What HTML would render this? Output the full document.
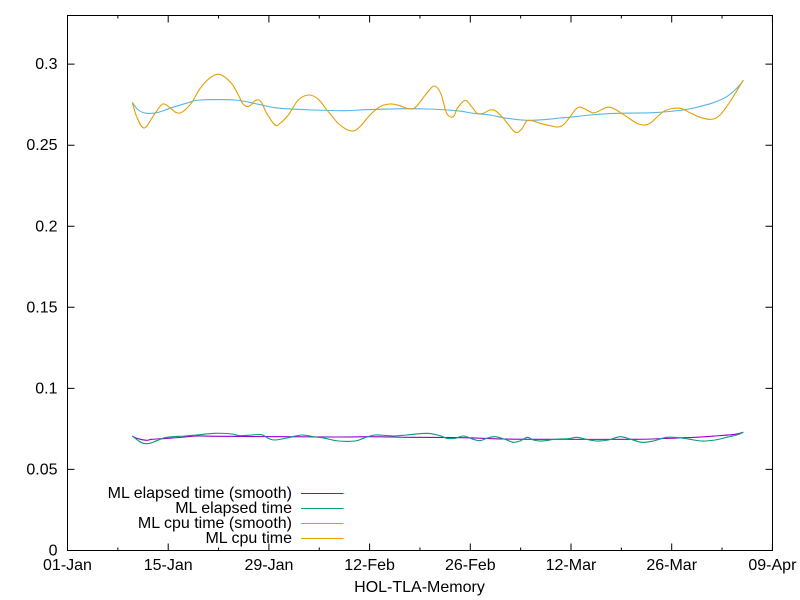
<!DOCTYPE html>
<html>
<head>
<meta charset="utf-8">
<style>
html,body{margin:0;padding:0;background:#fff;}
svg{display:block;}
text{font-family:"Liberation Sans",Arial,sans-serif;font-size:16px;fill:#000;}
</style>
</head>
<body>
<svg id="chart" width="800" height="600" viewBox="0 0 800 600" xmlns="http://www.w3.org/2000/svg">
<rect width="800" height="600" fill="#fff"/>
<g stroke="#000" stroke-width="1" fill="none">
<path d="M67.5,550.5h7M67.5,469.4h7M67.5,388.4h7M67.5,307.3h7M67.5,226.3h7M67.5,145.2h7M67.5,64.1h7"/>
<path d="M772.5,550.5h-7M772.5,469.4h-7M772.5,388.4h-7M772.5,307.3h-7M772.5,226.3h-7M772.5,145.2h-7M772.5,64.1h-7"/>
<path d="M67.5,550.5v-7M168.2,550.5v-7M268.9,550.5v-7M369.6,550.5v-7M470.3,550.5v-7M571,550.5v-7M671.7,550.5v-7M772.4,550.5v-7"/>
<path d="M67.5,15.5v7M168.2,15.5v7M268.9,15.5v7M369.6,15.5v7M470.3,15.5v7M571,15.5v7M671.7,15.5v7M772.4,15.5v7"/>
<path d="M117.85,550.5v-3M218.55,550.5v-3M319.25,550.5v-3M419.95,550.5v-3M520.65,550.5v-3M621.35,550.5v-3M722.05,550.5v-3"/>
<path d="M117.85,15.5v3M218.55,15.5v3M319.25,15.5v3M419.95,15.5v3M520.65,15.5v3M621.35,15.5v3M722.05,15.5v3"/>
<rect x="67.5" y="15.5" width="705" height="535"/>
</g>
<g text-anchor="end">
<text x="57.5" y="555.5">0</text>
<text x="57.5" y="474.4">0.05</text>
<text x="57.5" y="393.4">0.1</text>
<text x="57.5" y="312.3">0.15</text>
<text x="57.5" y="231.3">0.2</text>
<text x="57.5" y="150.2">0.25</text>
<text x="57.5" y="69.1">0.3</text>
</g>
<g text-anchor="middle">
<text x="67.5" y="570">01-Jan</text>
<text x="168.2" y="570">15-Jan</text>
<text x="268.9" y="570">29-Jan</text>
<text x="369.6" y="570">12-Feb</text>
<text x="470.3" y="570">26-Feb</text>
<text x="571" y="570">12-Mar</text>
<text x="671.7" y="570">26-Mar</text>
<text x="772.4" y="570">09-Apr</text>
<text x="419.5" y="592">HOL-TLA-Memory</text>
</g>
<g id="series" fill="none" stroke-width="1.1" stroke-linejoin="round">
<polyline stroke="#9400d3" points="132.3,436 136.7,438.3 146.7,440.3 151.7,439.3 168.3,438.3 185,437 198.3,436 225,436.3 335,437 370,436.7 410,437.3 463.3,437.7 503.3,439 540,439.3 635,439.3 668.3,438.3 695,437.3 715,436 735,434.3 743.3,432.3"/>
<polyline stroke="#009e73" points="132.3,436 138.3,440.7 143.3,443.3 150,443.3 156.7,440.7 166.7,437.3 185,436 196.7,435 215,433.3 231.7,434 240,435.7 251.7,435 261.7,434.7 268.3,438.3 275,440 288.3,437.7 301.7,435 313.3,436.7 325,438.3 338.3,441 355,441 363.3,438.3 375,435 393.3,436 406.7,435 426.7,433.3 440,435.7 446.7,438.3 455,438.3 463.3,436 473.3,439.3 480,440.7 486.7,438.3 495,436.7 505,439.3 513.3,442.3 520,441 527.3,437.3 533.3,440 541.7,441 555,439.3 568.3,438.7 576.7,437.3 585,439 596.7,441 608.3,440 620,436.7 630,439 641.7,442.3 653.3,441 666.7,437.3 678.3,437.7 690,439.3 701.7,441 715,440 726.7,437.3 736.7,435 743.3,432.3"/>
<polyline stroke="#56b4e9" points="132.3,102.3 138.3,110 146.7,113.3 158.3,112.3 171.7,107.7 188.3,102.7 200,100 235,100 258.3,104.3 275,107.7 291.7,109 311.7,110 345,110.7 365,109.7 403.3,108.7 428.3,109 456.7,110.7 473.3,113.3 490,115 506.7,118.3 526.7,120.3 543.3,119.7 560,118 570,117.3 590,115 616.7,113.3 653.3,112.7 683.3,110 696.7,107.3 713.3,102.7 726.7,96.7 736.7,88.3 743.3,80.7"/>
<polyline stroke="#e69f00" points="132.3,102.3 136.7,116.7 144.3,128 155,113.3 162.7,104 170,107.7 175.7,112.3 181.7,112.3 191.7,102.7 199,90 208.3,79.3 219,74.3 231,82.7 238.3,95 243.3,104.3 249,106.3 255.7,100.3 261,101.7 266.7,113.3 275,125 280,123.3 288.3,115 298.3,100 309,95 318.3,99.3 328.3,111.7 340,125 351.7,131 360,126.7 370,115 380,106.7 390,104 400,105.7 406.7,108.3 415,107.7 426.7,93.3 434.3,86 440.7,93.3 446.7,113.3 453.3,116.7 457.3,108.3 465.3,100.3 471.7,106.7 477.3,113.3 483.3,113.3 490,110 495.7,111 503.3,118.3 515,132 521.7,129 526.7,121 533.3,121 540,123.3 550,125.7 558.3,127 565,123.3 576.7,108.3 583.3,108.3 590,111.7 595,112.7 607.3,107.3 615,109.3 626.7,116.7 636.7,123.3 643.3,125 650,123.3 663.3,111.7 673.3,108.3 681.7,108.7 690,112.7 700,117.3 711.7,119.3 720,115 730,101.7 738.3,88.3 743.3,80"/>
</g>
<g text-anchor="end">
<text x="292" y="498">ML elapsed time (smooth)</text>
<text x="292" y="513">ML elapsed time</text>
<text x="292" y="528">ML cpu time (smooth)</text>
<text x="292" y="543">ML cpu time</text>
</g>
<g stroke-width="1.1">
<line x1="301" y1="493.5" x2="343.5" y2="493.5" stroke="#9400d3"/>
<line x1="301" y1="508.5" x2="343.5" y2="508.5" stroke="#009e73"/>
<line x1="301" y1="523.5" x2="343.5" y2="523.5" stroke="#56b4e9"/>
<line x1="301" y1="538.5" x2="343.5" y2="538.5" stroke="#e69f00"/>
</g>
</svg>
<script>
(function(){
  var ns="http://www.w3.org/2000/svg";
  var g=document.getElementById("series");
  var pls=Array.prototype.slice.call(g.getElementsByTagName("polyline"));
  pls.forEach(function(pl){
    var pts=pl.getAttribute("points").trim().split(/\s+/).map(function(s){var a=s.split(",");return [parseFloat(a[0]),parseFloat(a[1])];});
    var d="M"+pts[0][0]+","+pts[0][1];
    for(var i=0;i<pts.length-1;i++){
      var p0=pts[i>0?i-1:i],p1=pts[i],p2=pts[i+1],p3=pts[i+2<pts.length?i+2:i+1];
      var c1x=p1[0]+(p2[0]-p0[0])/6,c1y=p1[1]+(p2[1]-p0[1])/6;
      var c2x=p2[0]-(p3[0]-p1[0])/6,c2y=p2[1]-(p3[1]-p1[1])/6;
      d+="C"+c1x.toFixed(2)+","+c1y.toFixed(2)+" "+c2x.toFixed(2)+","+c2y.toFixed(2)+" "+p2[0]+","+p2[1];
    }
    var p=document.createElementNS(ns,"path");
    p.setAttribute("d",d);
    p.setAttribute("stroke",pl.getAttribute("stroke"));
    g.replaceChild(p,pl);
  });
})();
</script>
</body>
</html>
